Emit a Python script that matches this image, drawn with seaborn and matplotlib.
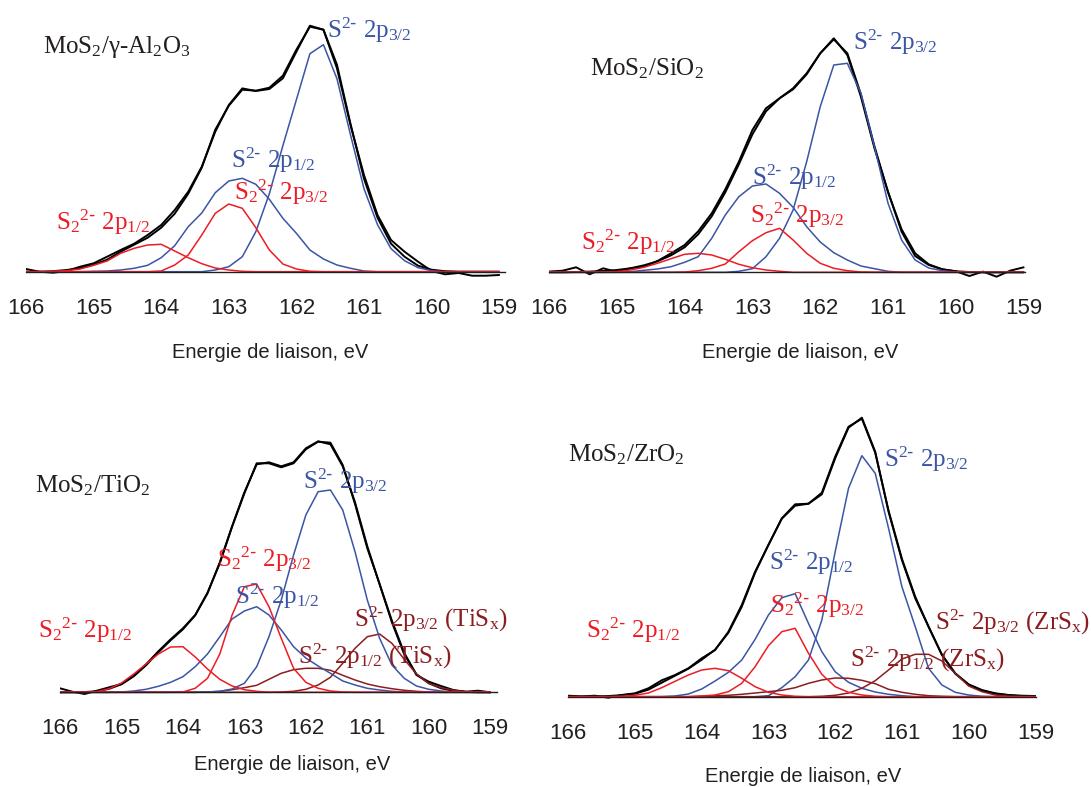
import matplotlib
matplotlib.use('Agg')
import matplotlib.pyplot as plt
import seaborn as sns

# Energie de liaison (eV), pas de 0.2 eV
energy = [166.0, 165.8, 165.6, 165.4, 165.2, 165.0, 164.8, 164.6, 164.4, 164.2,
          164.0, 163.8, 163.6, 163.4, 163.2, 163.0, 162.8, 162.6, 162.4, 162.2,
          162.0, 161.8, 161.6, 161.4, 161.2, 161.0, 160.8, 160.6, 160.4, 160.2,
          160.0, 159.8, 159.6, 159.4, 159.2, 159.0]
ticks = [166, 165, 164, 163, 162, 161, 160, 159]

# MoS2/gamma-Al2O3
al_exp = [2.7, 0, -1, 0.7, 5, 8.4, 15, 21.7, 28, 36.7, 46.7, 61.7, 80, 105, 140, 166.7, 183.3, 180.7,
          182.7, 193.4, 220, 246, 242, 203.4, 146.7, 96.7, 56.7, 31.7, 20, 10, 0.7, -2.6, -1.3, -4, -4, -3.3]
al_fit = [0, 0, 0.5, 1.7, 3.5, 7, 12, 20, 27, 34, 44, 58, 78, 104, 142, 166, 182, 181,
          184, 196, 222, 245, 242, 207, 148, 93, 54, 28, 15, 6, 2, 0.5, 0, 0, 0, 0]
al_s_32 = [0, 0, 0, 0, 0, 0, 0, 0, 0, 0, 0, 0, 0, 0, 1.7, 5, 15, 40,
           78, 126, 172, 218, 227, 193, 137, 83, 47, 23, 11, 4, 1, 0, 0, 0, 0, 0]
al_s_12 = [0, 0, 0, 0, 0, 0.4, 0.7, 1.7, 3.4, 6.4, 14, 26, 45, 58.7, 79, 90.7, 93.4, 87.4,
           72.4, 53.4, 38.4, 21.7, 12.7, 6.7, 3.4, 0.7, 0, 0, 0, 0, 0, 0, 0, 0, 0, 0]
al_s2_32 = [0, 0, 0, 0, 0, 0, 0, 0, 0, 0, 0.7, 6.7, 16.7, 36.7, 58.4, 67.7, 63.4, 44,
            21.7, 7.7, 2.7, 0.4, 0, 0, 0, 0, 0, 0, 0, 0, 0, 0, 0, 0, 0, 0]
al_s2_12 = [0, 0, 0.4, 1, 2.7, 6.4, 10.7, 18.4, 23.4, 26.7, 27.4, 20.7, 14, 8, 3.7, 1.7, 0.4, 0,
            0, 0, 0, 0, 0, 0, 0, 0, 0, 0, 0, 0, 0, 0, 0, 0, 0, 0]

# MoS2/SiO2
si_exp = [0.7, 1.6, 5, -2, 4, 0.3, 4, 5.6, 11.3, 19, 27.3, 41, 59, 83, 110.6, 142.3, 164, 174,
          184, 199, 219, 234, 217.3, 175.6, 124, 80.6, 40.6, 16.3, 7.3, 3, 1, -3.7, 0.7, -4.4, 1.6, 5]
si_fit = [0, 0, 0.3, 0.7, 1.3, 2.3, 4, 7, 11, 17, 25, 38, 56, 80, 108, 138, 161, 174,
          183, 198, 219, 233, 219, 178, 126, 80, 43, 19, 8, 3, 1, 0.3, 0, 0, 0, 0]
si_s_32 = [0, 0, 0, 0, 0, 0, 0, 0, 0, 0, 0, 0, 0, 0, 1, 3.6, 15.6, 34,
           62.3, 110.6, 165.6, 207.3, 209, 179, 125.6, 69, 32.3, 12.3, 4.3, 1.6, 0.3, 0, 0, 0, 0, 0]
si_s_12 = [0, 0, 0, 0, 0, 0, 0.6, 2, 3.3, 5.6, 10, 15.6, 34, 57.3, 75.6, 86.3, 88.3, 79,
           65, 45.6, 30.3, 19.6, 12.3, 6.3, 3.6, 1, 0, 0, 0, 0, 0, 0, 0, 0, 0, 0]
si_s2_32 = [0, 0, 0, 0, 0, 0, 0, 0, 0, 0, 0.3, 1.6, 4, 8.3, 20.6, 31.6, 39.6, 44,
            32.3, 19, 9, 4, 1.6, 0.3, 0, 0, 0, 0, 0, 0, 0, 0, 0, 0, 0, 0]
si_s2_12 = [0, 0, 0, 0, 0, 0.6, 2.3, 5, 9, 13.6, 18, 19, 17.3, 13, 8, 4.6, 2.3, 1,
            0, 0, 0, 0, 0, 0, 0, 0, 0, 0, 0, 0, 0, 0, 0, 0, 0, 0]

# MoS2/TiO2
ti_exp = [4, 0.6, -1.7, 1.6, 5, 8.3, 16.6, 28, 41, 53, 64, 77.3, 99.6, 129, 165.6, 199, 229, 229,
          225, 229, 243, 250.6, 249.6, 227.3, 188.3, 144, 108.3, 71.6, 39.6, 17.3, 10.6, 6.3, 2.3, 0.6, 1.6, 0]
ti_fit = [0, 0, 0.3, 1, 3.5, 8, 16, 27, 40, 52, 63, 77, 99, 130, 166, 200, 228, 230,
          226, 230, 244, 251, 248, 226, 190, 146, 108, 70, 38, 18, 9, 4, 1.5, 0.5, 0, 0]
ti_s_32 = [0, 0, 0, 0, 0, 0, 0, 0, 0, 0, 0, 0, 0.3, 1, 3.3, 9, 25.6, 55.6,
           92.3, 137.3, 177.3, 200.6, 202.3, 182.3, 140.6, 92.3, 54, 27.3, 14, 6.3, 3, 1.3, 0.3, 0, 0, 0]
ti_s_12 = [0, 0, 0, 0, 0, 0.3, 1.3, 3, 6, 10, 15.6, 25.6, 38.3, 55.6, 73.3, 81.3, 85.6, 77.3,
           62.3, 45.6, 34.3, 26.3, 19, 11.3, 7.3, 4, 2.3, 1, 0.3, 0, 0, 0, 0, 0, 0, 0]
ti_s2_32 = [0, 0, 0, 0, 0, 0, 0, 0, 0, 0, 0.3, 4, 14, 38.3, 77.3, 105.6, 108.3, 85.6,
            54, 24, 10, 4, 1.3, 0.3, 0, 0, 0, 0, 0, 0, 0, 0, 0, 0, 0, 0]
ti_s2_12 = [0, 0, 0, 0.6, 3.6, 9.3, 18.3, 28.3, 38.3, 45.3, 45.6, 35.3, 23.3, 13, 6.3, 2.6, 1, 0,
            0, 0, 0, 0, 0, 0, 0, 0, 0, 0, 0, 0, 0, 0, 0, 0, 0, 0]
ti_tis_32 = [0, 0, 0, 0, 0, 0, 0, 0, 0, 0, 0, 0, 0, 0, 0, 0, 0, 0,
             0.3, 1, 3, 7.3, 15, 29, 44, 55.6, 58.3, 49, 33, 18.3, 9, 4.6, 2, 0.6, 0, 0]
ti_tis_12 = [0, 0, 0, 0, 0, 0, 0, 0, 0, 0, 0, 0, 0.3, 1, 2.6, 4.6, 7, 13,
             19, 22.6, 24, 24, 22, 17, 12.3, 8.3, 5.6, 3.6, 2, 1, 0.3, 0, 0, 0, 0, 0]

# MoS2/ZrO2
zr_exp = [1, 0.4, 1, -1, 1.7, 3.4, 8.4, 16.4, 21.7, 28.4, 38.4, 46.7, 65, 91.7, 125, 151.7, 178.4, 192.4,
          193, 202.4, 238.4, 269, 279, 245, 185, 136.7, 98.4, 70, 41.7, 23.4, 12.4, 6.7, 3.4, 1.7, 1, 0.7]
zr_fit = [0, 0, 0.3, 0.7, 1.5, 3, 7, 14, 21, 28, 37, 47, 64, 90, 124, 152, 178, 191,
          193, 204, 240, 270, 278, 244, 186, 138, 100, 70, 42, 23, 12, 6, 3, 1.5, 0.5, 0]
zr_s_32 = [0, 0, 0, 0, 0, 0, 0, 0, 0, 0, 0, 0, 0, 0, 0, 1, 9, 20,
           36.7, 76.7, 145, 208.4, 241, 223.4, 168.4, 110, 70, 28.4, 11.7, 4.4, 1.7, 0.4, 0, 0, 0, 0]
zr_s_12 = [0, 0, 0, 0, 0, 0, 0, 0, 0.7, 2.7, 7.7, 15.7, 24.4, 36.7, 57.4, 81.7, 99, 103,
           73.3, 45, 25, 14.4, 8.4, 4.7, 2.4, 1, 0, 0, 0, 0, 0, 0, 0, 0, 0, 0]
zr_s2_32 = [0, 0, 0, 0, 0, 0, 0, 0, 0, 0, 0.7, 1.7, 5, 13.4, 30, 51, 65, 68.4,
            43.4, 22.4, 10, 4.4, 1.7, 0.4, 0, 0, 0, 0, 0, 0, 0, 0, 0, 0, 0, 0]
zr_s2_12 = [0, 0, 0, 0, 0.4, 1.4, 3.7, 9, 15.4, 21.7, 26.7, 28.4, 26, 18.4, 10, 4.4, 1.7, 0.4,
            0, 0, 0, 0, 0, 0, 0, 0, 0, 0, 0, 0, 0, 0, 0, 0, 0, 0]
zr_zrs_32 = [0, 0, 0, 0, 0, 0, 0, 0, 0, 0, 0, 0, 0, 0, 0, 0, 0, 0,
             0, 0.4, 1.4, 3.7, 8.4, 16, 26.7, 37.7, 42.4, 42.4, 35.7, 23.4, 10.7, 5, 1.7, 0.4, 0, 0]
zr_zrs_12 = [0, 0, 0, 0, 0, 0, 0, 0, 0, 0, 0.4, 1, 1.4, 2.4, 3.7, 5, 6.4, 9,
             13.4, 16.7, 18.7, 18.4, 16.4, 13, 7.4, 4.4, 2.4, 1, 0.4, 0, 0, 0, 0, 0, 0, 0]

BLUE = '#3a55a5'
RED = '#ed1c24'
DARK = '#8b1d20'
INK = '#231f20'

lab_s_32 = r'S$^{2\text{-}}$ 2p$_{3/2}$'
lab_s_12 = r'S$^{2\text{-}}$ 2p$_{1/2}$'
lab_s2_32 = r'S$_2$$^{2\text{-}}$ 2p$_{3/2}$'
lab_s2_12 = r'S$_2$$^{2\text{-}}$ 2p$_{1/2}$'

sns.set_style('white')
plt.rcParams['font.family'] = ['Liberation Sans', 'DejaVu Sans']
plt.rcParams['mathtext.fontset'] = 'custom'
plt.rcParams['mathtext.default'] = 'regular'

W, H = 1091, 787
fig = plt.figure(figsize=(W / 100, H / 100), dpi=100)

panels = [
    dict(box=(26, 505, 271.7), xr=158.914, ylim=(-10, 262), xlab=(270, 353),
         title=('MoS$_2$/γ-Al$_2$O$_3$', 165.75, 218.4),
         black=[al_exp, al_fit],
         comps=[(al_s_32, BLUE), (al_s_12, BLUE), (al_s2_32, RED), (al_s2_12, RED)],
         labels=[(lab_s_32, BLUE, 161.54, 234), (lab_s_12, BLUE, 162.97, 103.7),
                 (lab_s2_32, RED, 162.92, 71.7), (lab_s2_12, RED, 165.56, 41.7)]),
    dict(box=(549, 1025, 272.3), xr=158.98, ylim=(-10, 262), xlab=(800, 352),
         title=('MoS$_2$/SiO$_2$', 165.40, 197.3),
         black=[si_exp, si_fit],
         comps=[(si_s_32, BLUE), (si_s_12, BLUE), (si_s2_32, RED), (si_s2_12, RED)],
         labels=[(lab_s_32, BLUE, 161.51, 222.3), (lab_s_12, BLUE, 163.01, 87),
                 (lab_s2_32, RED, 163.04, 49.6), (lab_s2_12, RED, 165.53, 22.3)]),
    dict(box=(60, 497, 692.3), xr=158.89, ylim=(-10, 262), xlab=(292, 765),
         title=('MoS$_2$/TiO$_2$', 166.41, 199.6),
         black=[ti_exp, ti_fit],
         comps=[(ti_tis_12, DARK), (ti_tis_32, DARK), (ti_s_32, BLUE), (ti_s_12, BLUE),
                (ti_s2_32, RED), (ti_s2_12, RED)],
         labels=[(lab_s_32, BLUE, 162.05, 203), (lab_s2_32, RED, 163.45, 125.6),
                 (lab_s_12, BLUE, 163.15, 88), (lab_s2_12, RED, 166.36, 54),
                 (lab_s_32 + ' (TiS$_x$)', DARK, 161.22, 65.6),
                 (lab_s_12 + ' (TiS$_x$)', DARK, 162.13, 29)]),
    dict(box=(568.3, 1036, 696.7), xr=158.99, ylim=(-10, 290), xlab=(803, 777),
         title=('MoS$_2$/ZrO$_2$', 166.0, 235),
         black=[zr_exp, zr_fit],
         comps=[(zr_s_32, BLUE), (zr_s_12, BLUE), (zr_zrs_12, DARK), (zr_zrs_32, DARK),
                (zr_s2_32, RED), (zr_s2_12, RED)],
         labels=[(lab_s_32, BLUE, 161.27, 230), (lab_s_12, BLUE, 162.99, 126.7),
                 (lab_s2_32, RED, 162.97, 83.7), (lab_s2_12, RED, 165.73, 58.4),
                 (lab_s_32 + ' (ZrS$_x$)', DARK, 160.50, 66.7),
                 (lab_s_12 + ' (ZrS$_x$)', DARK, 161.78, 30)]),
]

for p in panels:
    left, right, base = p['box']
    lo, hi = p['ylim']
    rect = [left / W, 1 - (base - lo) / H, (right - left) / W, (hi - lo) / H]
    ax = fig.add_axes(rect)
    ax.set_facecolor('none')

    for series in p['black']:
        sns.lineplot(x=energy, y=series, ax=ax, color='black', lw=1.4)
    for series, col in p['comps']:
        sns.lineplot(x=energy, y=series, ax=ax, color=col, lw=1.1)

    ax.set_xlim(166, p['xr'])
    ax.set_ylim(lo, hi)
    ax.set_xticks(ticks)
    ax.set_xticklabels([str(t) for t in ticks])
    ax.set_yticks([])
    for s in ['left', 'top', 'right']:
        ax.spines[s].set_visible(False)
    ax.spines['bottom'].set_position(('data', 0))
    ax.spines['bottom'].set_color(INK)
    ax.spines['bottom'].set_linewidth(1.0)
    ax.tick_params(axis='x', direction='out', length=5.8, width=1.0, pad=13,
                   labelsize=16, colors=INK)

    ax.set_xlabel('Energie de liaison, eV', fontsize=14.5, color=INK)
    ax.xaxis.label.set_va('center')
    ax.xaxis.set_label_coords(p['xlab'][0] / W, 1 - p['xlab'][1] / H,
                              transform=fig.transFigure)
    ax.set_ylabel('')

    t, tx, ty = p['title']
    ax.text(tx, ty, t, fontsize=18, color=INK, family='Liberation Serif',
            ha='left', va='baseline', clip_on=False)
    for txt, col, lx, ly in p['labels']:
        ax.text(lx, ly, txt, fontsize=18, color=col, family='Liberation Serif',
                ha='left', va='baseline', clip_on=False)

fig.savefig('out.png', dpi=100)
